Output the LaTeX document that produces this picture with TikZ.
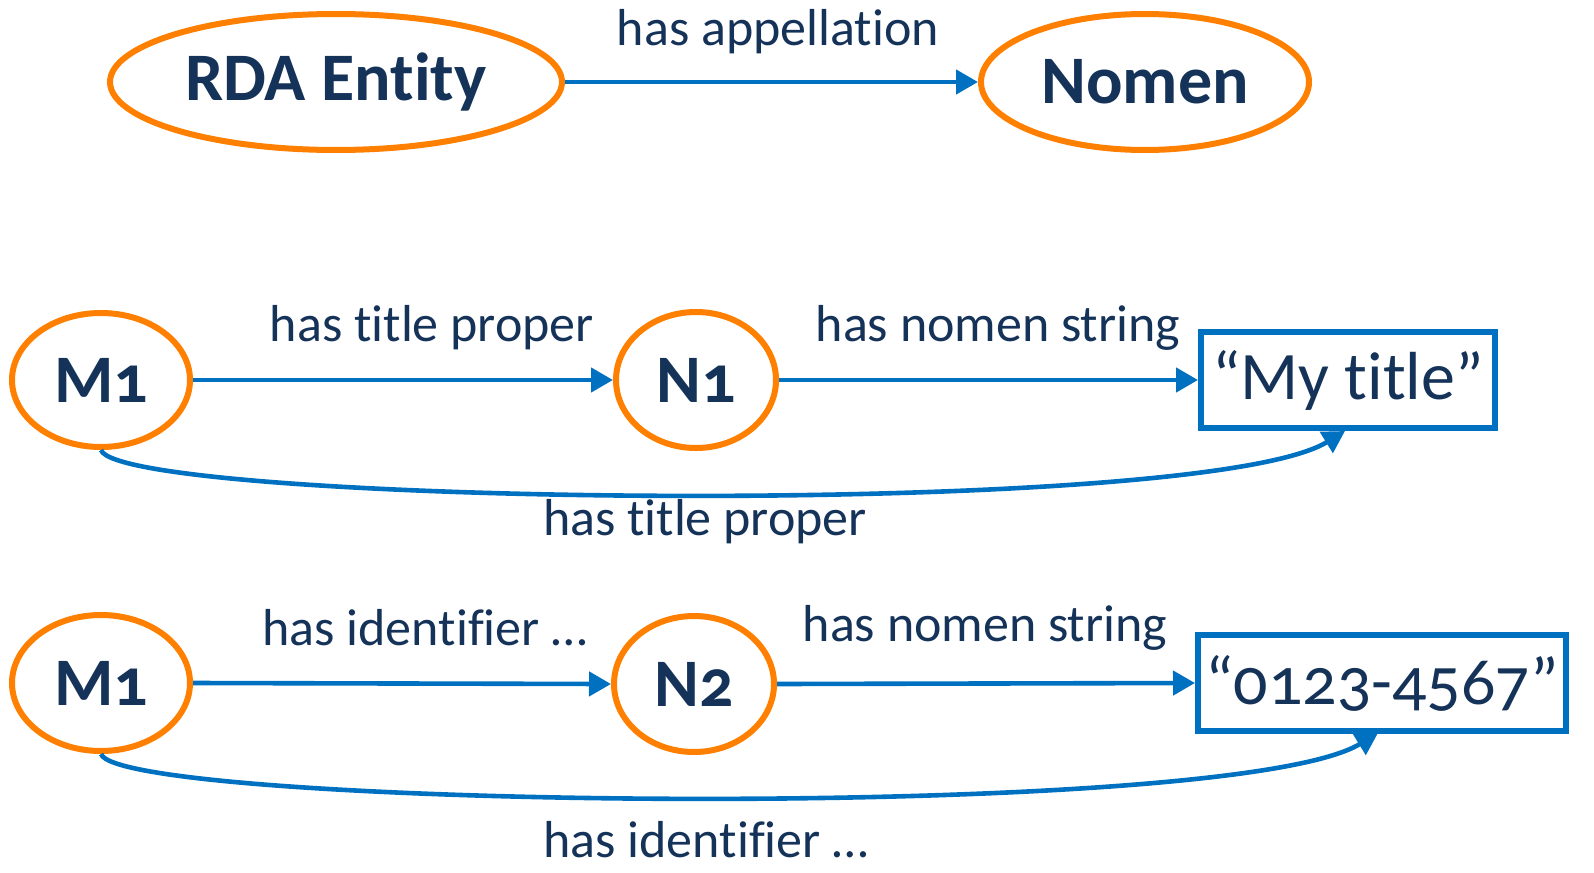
\documentclass[tikz,border=0pt]{standalone}
\usepackage{fontspec}
\setmainfont{Carlito}[Numbers=OldStyle,Ligatures=NoCommon]
\usetikzlibrary{shapes.geometric,arrows.meta}
\definecolor{txt}{RGB}{21,50,88}
\definecolor{orng}{RGB}{255,128,0}
\definecolor{blu}{RGB}{0,112,192}
\begin{document}
\begin{tikzpicture}[x=0.5pt,y=-0.5pt,
  ent/.style={ellipse,draw=orng,line width=3pt,inner sep=0pt,text=txt,font=\fontsize{34}{40}\selectfont\bfseries},
  strbox/.style={rectangle,draw=blu,line width=3pt,inner sep=0pt,text=txt,font=\fontsize{34}{40}\selectfont},
  lbl/.style={text=txt,font=\fontsize{26}{30}\selectfont,inner sep=0pt},
  conn/.style={draw=blu,line width=2.3pt,-{Triangle[length=11pt,width=12pt]}}]
\useasboundingbox (0,0) rectangle (1594,872);
% top row
\node[ent,minimum width=226pt,minimum height=68pt] (rda) at (336,82) {RDA Entity};
\node[ent,minimum width=164pt,minimum height=68pt] (nomen) at (1145,82) {Nomen};
\draw[conn] (rda.east) -- (nomen.west);
\node[lbl] (l0) at (778,32) {has appellation};
% second row
\node[ent,minimum width=89pt,minimum height=67pt] (m1a) at (101,380) {M1};
\node[ent,minimum width=80pt,minimum height=68pt] (n1) at (696,380) {N1};
\node[strbox,minimum width=147pt,minimum height=48pt] (s1) at (1348,380) {“My title”};
\draw[conn] (m1a.east) -- (n1.west);
\draw[conn] (n1.east) -- (s1.west);
\coordinate (s1b) at (1345,431);
\draw[conn] (m1a.south) .. controls (120,505) and (1200,520) .. (s1b);
\node[lbl] (l1) at (432,328) {has title proper};
\node[lbl] (l2) at (998,328) {has nomen string};
\node[lbl] (l3) at (705,522) {has title proper};
% third row
\node[ent,minimum width=89pt,minimum height=68pt] (m1b) at (101,683) {M1};
\node[ent,minimum width=80pt,minimum height=68pt] (n2) at (694,684) {N2};
\node[strbox,minimum width=184pt,minimum height=48pt] (s2) at (1382,683) {“0123-4567”};
\draw[conn] (m1b.east) -- (n2.west);
\draw[conn] (n2.east) -- (s2.west);
\coordinate (s2b) at (1378,733);
\draw[conn] (m1b.south) .. controls (120,808) and (1230,823) .. (s2b);
\node[lbl] (l4) at (425,628) {has identifier …};
\node[lbl] (l5) at (985,628) {has nomen string};
\node[lbl] (l6) at (706,840) {has identifier …};
\end{tikzpicture}
\end{document}
